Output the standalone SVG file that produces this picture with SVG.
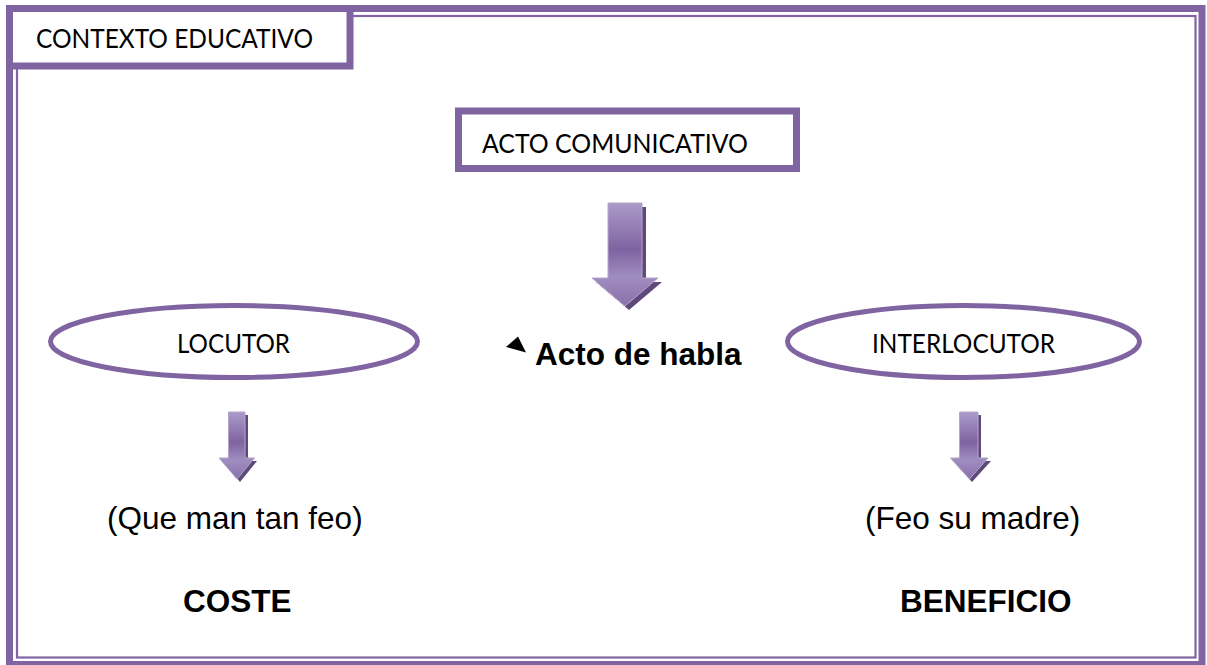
<svg xmlns="http://www.w3.org/2000/svg" width="1207" height="665" viewBox="0 0 1207 665">
  <defs>
    <linearGradient id="arrowGrad" x1="0" y1="0" x2="0" y2="1">
      <stop offset="0" stop-color="#ab9bc9"/>
      <stop offset="0.45" stop-color="#7f63a1"/>
      <stop offset="0.72" stop-color="#9f8dc0"/>
      <stop offset="1" stop-color="#8a70ab"/>
    </linearGradient>
    <style>
      .frame { fill: none; stroke: #8064a2; }
      .box { fill: #ffffff; stroke: #8064a2; stroke-width: 7; }
      .oval { fill: #ffffff; stroke: #8064a2; stroke-width: 5; }
      .cal { font-family: Lato, "Open Sans", "Liberation Sans", sans-serif; font-size: 27.5px; fill: #000000; }
      .ari { font-family: "Liberation Sans", Arial, sans-serif; font-size: 31.5px; fill: #000000; }
      .bold { font-weight: bold; }
      .arrow { fill: url(#arrowGrad); stroke: #b5a5ca; stroke-width: 1; }
      .shadow { fill: #5f497a; }
    </style>
  </defs>
  <rect width="1207" height="665" fill="#ffffff"/>

  <g id="page-border">
    <rect class="frame" x="9.5" y="8.5" width="1192.5" height="656" stroke-width="7"/>
    <rect class="frame" x="17" y="16" width="1178.5" height="641.5" stroke-width="2.2"/>
  </g>

  <g id="contexto-educativo">
    <rect class="box" x="9.5" y="8.5" width="340.5" height="57.5"/>
    <text class="cal" x="36" y="48" textLength="277" lengthAdjust="spacingAndGlyphs">CONTEXTO EDUCATIVO</text>
  </g>

  <g id="acto-comunicativo">
    <rect class="box" x="458.5" y="111" width="338" height="57.5"/>
    <text class="cal" x="482" y="153" textLength="266" lengthAdjust="spacingAndGlyphs">ACTO COMUNICATIVO</text>
  </g>

  <g id="locutor">
    <ellipse class="oval" cx="234" cy="341.5" rx="183.5" ry="36"/>
    <text class="cal" x="177" y="353" textLength="113" lengthAdjust="spacingAndGlyphs">LOCUTOR</text>
  </g>

  <g id="interlocutor">
    <ellipse class="oval" cx="963.5" cy="341.5" rx="176" ry="36"/>
    <text class="cal" x="872" y="353" textLength="183" lengthAdjust="spacingAndGlyphs">INTERLOCUTOR</text>
  </g>

  <g id="acto-de-habla">
    <polygon points="518,336.5 506,347 526,352.5" fill="#000000"/>
    <text class="ari bold" x="535" y="365">Acto de habla</text>
  </g>

  <g id="que-man-tan-feo">
    <text class="ari" x="107" y="529">(Que man tan feo)</text>
  </g>

  <g id="feo-su-madre">
    <text class="ari" x="865" y="529">(Feo su madre)</text>
  </g>

  <g id="coste">
    <text class="ari bold" x="183" y="612">COSTE</text>
  </g>

  <g id="beneficio">
    <text class="ari bold" x="900" y="612">BENEFICIO</text>
  </g>

  <g id="connectors">
    <g id="arrow-acto">
      <polygon class="shadow" points="612,207 646,207 646,282 662,282 629,310 596,282 612,282"/>
      <polygon class="arrow" points="608,203 642,203 642,278 658,278 625,306 592,278 608,278"/>
    </g>
    <g id="arrow-locutor">
      <polygon class="shadow" points="231,415 248,415 248,461 257,461 240,482 222,461 231,461"/>
      <polygon class="arrow" points="228.5,412 245,412 245,458 254.5,458 237,479 219,458 228.5,458"/>
    </g>
    <g id="arrow-interlocutor">
      <polygon class="shadow" points="962,415 981,415 981,461 991,461 972,482 953,461 962,461"/>
      <polygon class="arrow" points="959.5,412 978,412 978,458 988,458 969.5,479 950.5,458 959.5,458"/>
    </g>
  </g>
</svg>
